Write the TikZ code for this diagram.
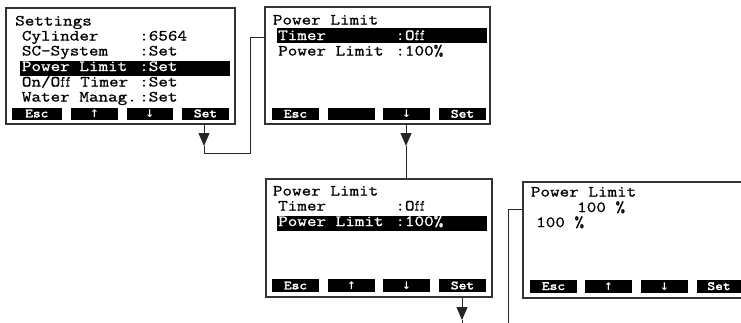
\documentclass[tikz,border=0pt]{standalone}
\usepackage{fontspec}
\newfontfamily\lcd{Latin Modern Mono}[FakeStretch=1.2,FakeBold=1]
\newfontfamily\lcdb{Latin Modern Mono}[FakeStretch=1.2,FakeBold=2.5]
\newfontfamily\arr{DejaVu Sans}
\newcommand{\lig}{\scalebox{0.55}[1]{ff}}
\usetikzlibrary{arrows.meta}
\tikzset{
  screen/.style={draw=black!80, line width=1.3pt},
  btn/.style={fill=black, draw=none},
  btnlabel/.style={text=white, font=\lcdb\fontsize{12.5}{13}\selectfont, inner sep=0pt, anchor=base},
  btnarrow/.style={text=white, font=\arr\bfseries\fontsize{10.5}{11}\selectfont, inner sep=0pt, anchor=base},
  lcdtext/.style={font=\lcd\fontsize{15.5}{16}\selectfont, inner sep=0pt, anchor=base west, text=black},
  lcdinv/.style={lcdtext, text=white},
  hl/.style={fill=black, draw=none},
  conn/.style={draw=black!85, line width=1pt},
  tip/.style={-{Triangle[width=11pt,length=13pt]}, draw=black!85, line width=1pt},
}
\begin{document}
\begin{tikzpicture}[x=1pt,y=-1pt]
\useasboundingbox (0,0) rectangle (741,322);
\clip (0,0) rectangle (741,322);
\fill[white] (0,0) rectangle (741,322);

% ---------- Screen 1 ----------
\draw[screen] (6,8) rectangle (235,124);
\node[lcdtext] (s1t) at (15,25.5) {Settings};
\node[lcdtext] (s1a) at (21.7,40.5) {Cylinder};
\node[lcdtext] (s1av) at (139,40.5) {:6564};
\node[lcdtext] (s1b) at (21.7,55.5) {SC-System};
\node[lcdtext] (s1bv) at (139,55.5) {:Set};
\fill[hl] (20,61) rectangle (230,76);
\node[lcdinv] (s1c) at (21.7,71) {Power Limit};
\node[lcdinv] (s1cv) at (139,71) {:Set};
\node[lcdtext] (s1d) at (21.7,86.5) {On/O\lig{} Timer};
\node[lcdtext] (s1dv) at (139,86.5) {:Set};
\node[lcdtext] (s1e) at (21.7,101.5) {Water Manag.};
\node[lcdtext] (s1ev) at (139,101.5) {:Set};
\fill[btn] (12,107.5) rectangle (61.7,119.5);
\fill[btn] (71,107.5) rectangle (118,119.5);
\fill[btn] (126.7,107.5) rectangle (172.7,119.5);
\fill[btn] (181.7,107.5) rectangle (229.3,119.5);
\node[btnlabel] (s1k1) at (36.8,117.3) {Esc};
\node[btnarrow] (s1k2) at (94.5,117.5) {↑};
\node[btnarrow] (s1k3) at (149.7,117.5) {↓};
\node[btnlabel] (s1k4) at (205.5,117.3) {Set};

% ---------- Screen 2 ----------
\draw[screen] (265,7) rectangle (490,124);
\node[lcdtext] (s2t) at (272.7,24.5) {Power Limit};
\fill[hl] (277,28.3) rectangle (487,43.3);
\node[lcdinv] (s2a) at (278,40) {Timer};
\node[lcdinv] (s2av) at (395.2,40) {:O\lig};
\node[lcdtext] (s2b) at (278,55.5) {Power Limit};
\node[lcdtext] (s2bv) at (395.2,55.5) {:100\%};
\fill[btn] (272,107.5) rectangle (319,120);
\fill[btn] (328,107.5) rectangle (375,120);
\fill[btn] (383,107.5) rectangle (430,120);
\fill[btn] (439,107.5) rectangle (486,120);
\node[btnlabel] (s2k1) at (295.5,117.6) {Esc};
\node[btnarrow] (s2k3) at (406.5,117.8) {↓};
\node[btnlabel] (s2k4) at (462.5,117.6) {Set};

% ---------- Screen 3 ----------
\draw[screen] (266,179) rectangle (492,297);
\node[lcdtext] (s3t) at (272.7,195.5) {Power Limit};
\node[lcdtext] (s3a) at (278,210.5) {Timer};
\node[lcdtext] (s3av) at (395.2,210.5) {:O\lig};
\fill[hl] (277,215.5) rectangle (487,230.5);
\node[lcdinv] (s3b) at (278,226) {Power Limit};
\node[lcdinv] (s3bv) at (395.2,226) {:100\%};
\fill[btn] (272,279) rectangle (319,292);
\fill[btn] (328,279) rectangle (375,292);
\fill[btn] (383,279) rectangle (430,292);
\fill[btn] (439,279) rectangle (486,292);
\node[btnlabel] (s3k1) at (295.5,289.3) {Esc};
\node[btnarrow] (s3k2) at (351.5,289.5) {↑};
\node[btnarrow] (s3k3) at (406.5,289.5) {↓};
\node[btnlabel] (s3k4) at (462.5,289.3) {Set};

% ---------- Screen 4 ----------
\draw[screen] (523,182) rectangle (749,298);
\node[lcdtext] (s4t) at (530.7,196.5) {Power Limit};
\node[lcdtext] (s4a) at (577,212) {100 \%};
\node[lcdtext] (s4b) at (536,227) {100 \%};
\fill[btn] (530,280) rectangle (577,292.5);
\fill[btn] (585,280) rectangle (632,292.5);
\fill[btn] (641,280) rectangle (688,292.5);
\fill[btn] (697,280) rectangle (744,292.5);
\node[btnlabel] (s4k1) at (553.5,290) {Esc};
\node[btnarrow] (s4k2) at (608.5,290.2) {↑};
\node[btnarrow] (s4k3) at (664.5,290.2) {↓};
\node[btnlabel] (s4k4) at (719,290) {Set};

% ---------- Connectors ----------
\coordinate (c1a) at (204,124);
\coordinate (c1tip) at (204,146);
\coordinate (c1b) at (204,153);
\coordinate (c1c) at (250,153);
\coordinate (c1d) at (250,37.5);
\coordinate (c1e) at (265,37.5);
\draw[tip] (c1a) -- (c1tip);
\draw[conn] (c1tip) -- (c1b) -- (c1c) -- (c1d) -- (c1e);

\coordinate (c2a) at (406,124);
\coordinate (c2tip) at (406,146);
\coordinate (c2b) at (406,179);
\draw[tip] (c2a) -- (c2tip);
\draw[conn] (c2tip) -- (c2b);

\coordinate (c3a) at (462,297);
\coordinate (c3tip) at (462,320);
\coordinate (c3b) at (462,323);
\draw[tip] (c3a) -- (c3tip);
\draw[conn] (c3tip) -- (c3b);

\coordinate (c4a) at (523,209);
\coordinate (c4b) at (508,209);
\coordinate (c4c) at (508,323);
\draw[conn] (c4a) -- (c4b) -- (c4c);
\end{tikzpicture}
\end{document}
